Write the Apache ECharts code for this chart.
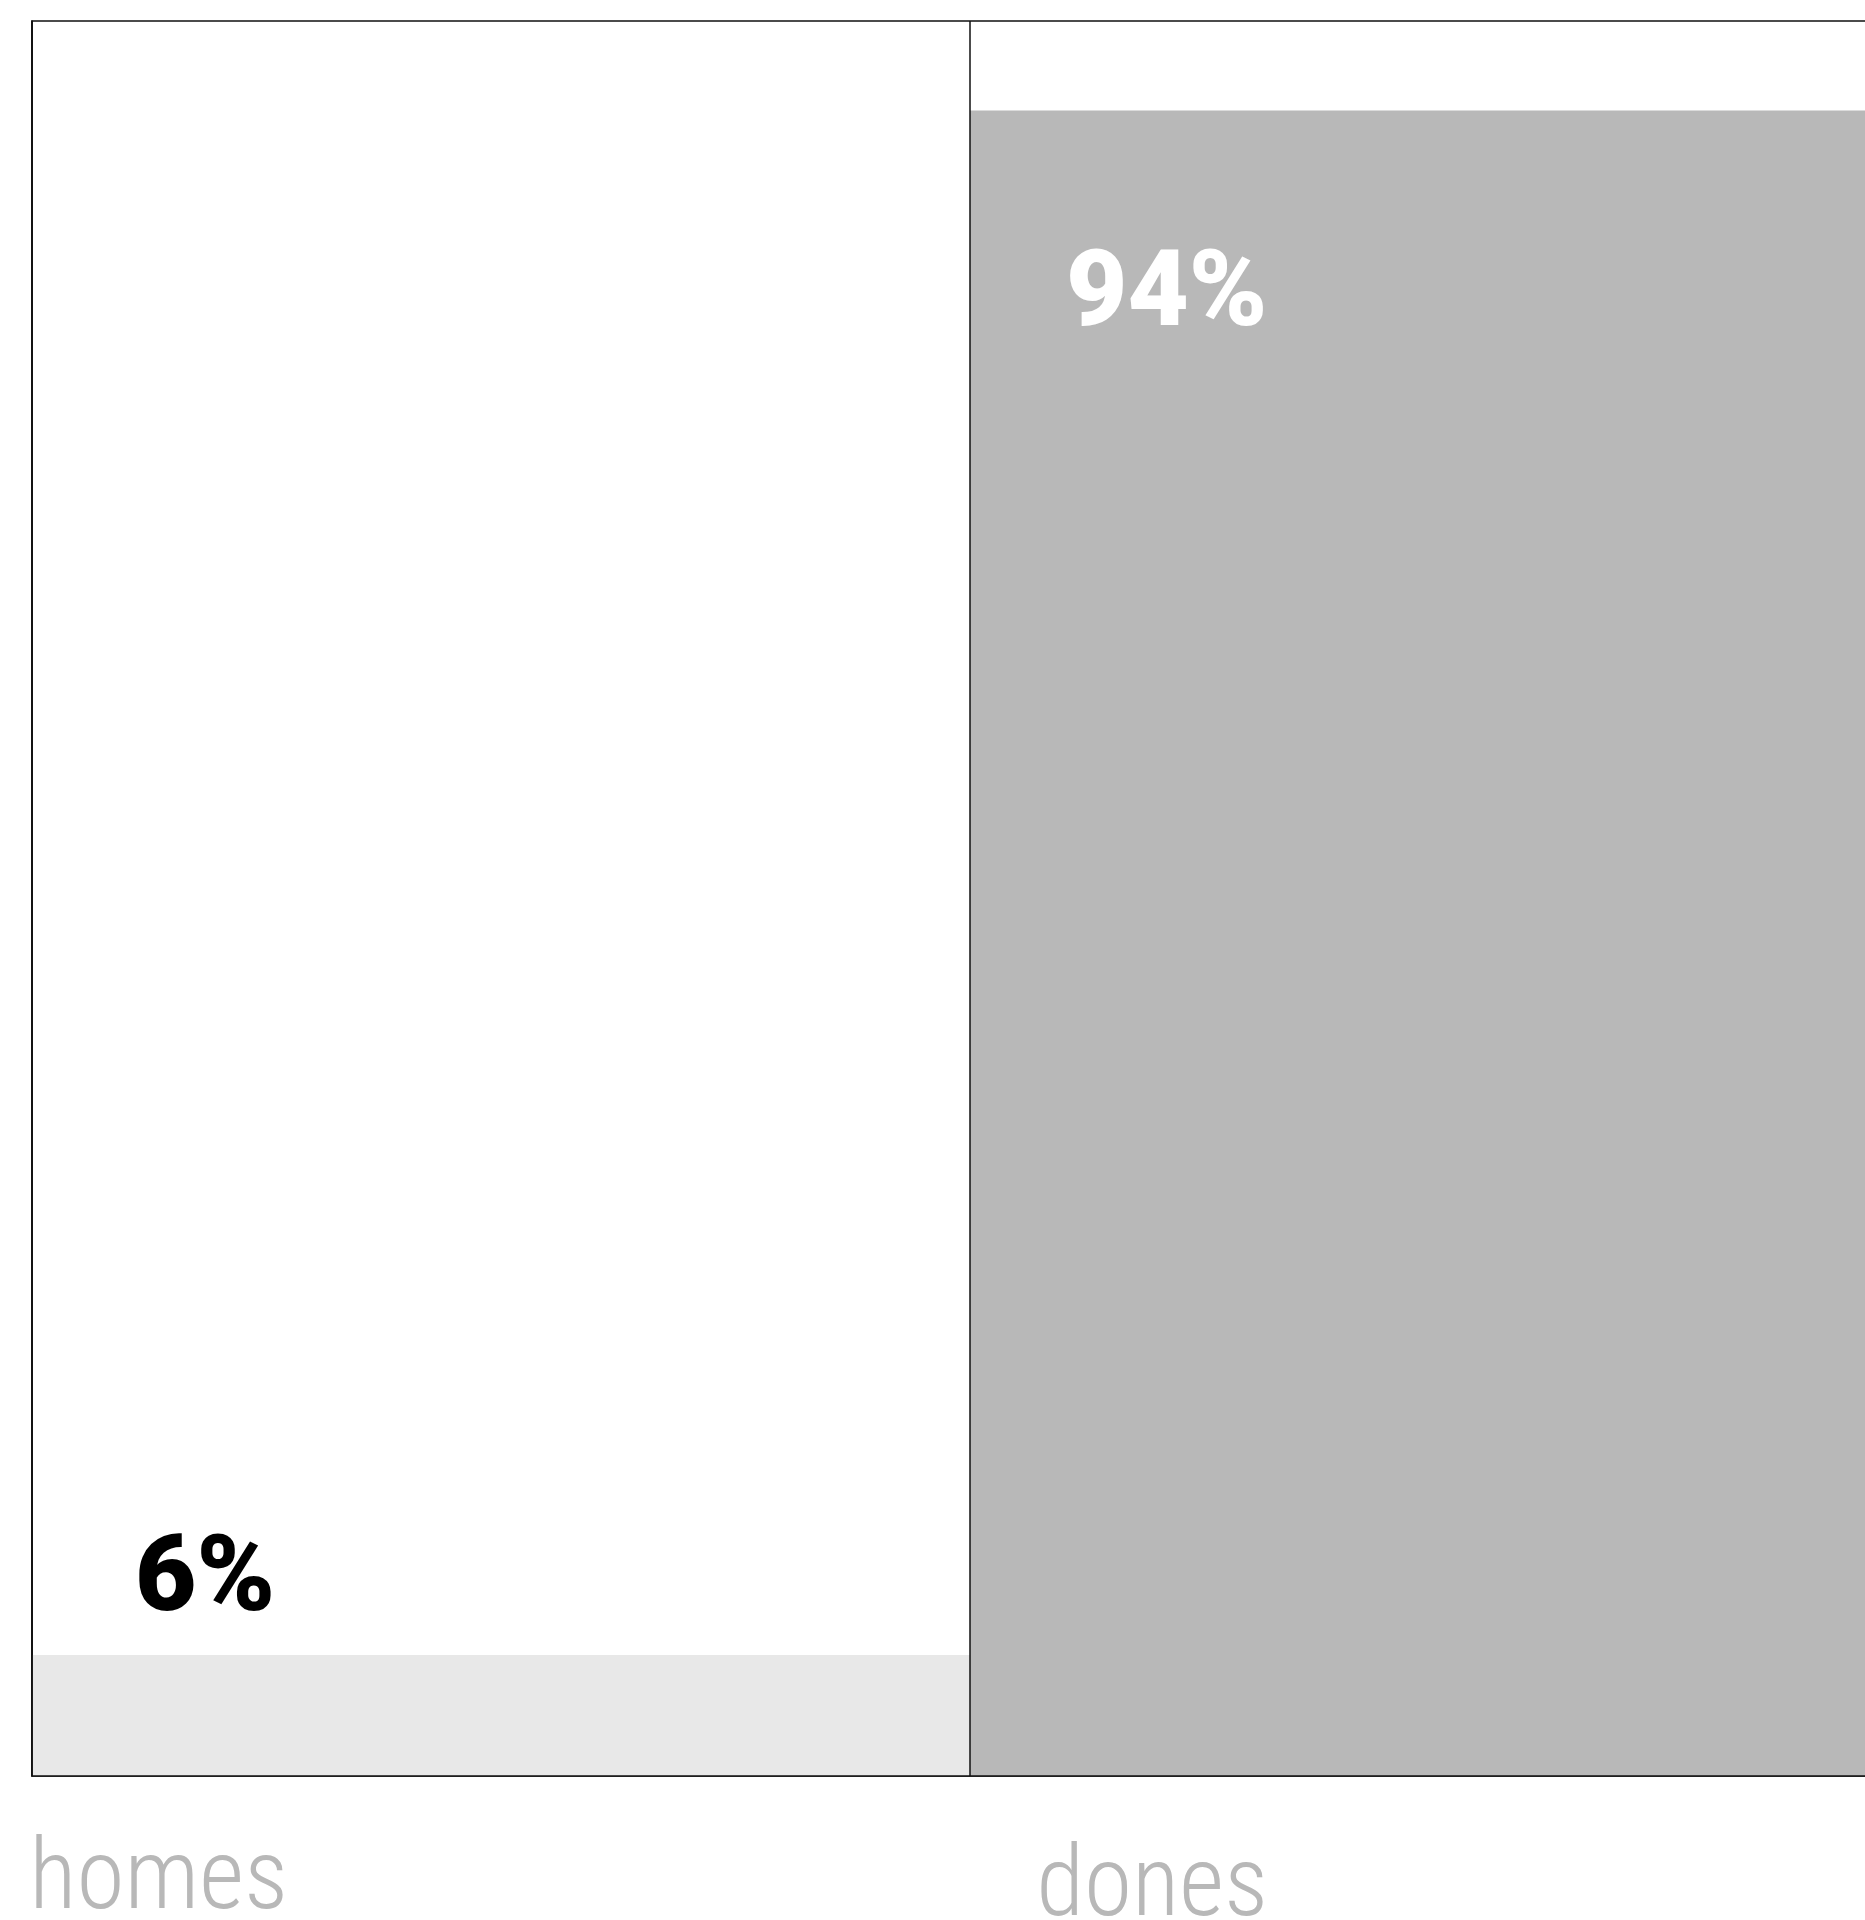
<!DOCTYPE html>
<html>
<head>
<meta charset="utf-8">
<script src="https://cdn.jsdelivr.net/npm/echarts@6/dist/echarts.min.js"></script>
<style>
html,body{margin:0;padding:0;background:#fff;}
#c{width:1865px;height:1920px;}
</style>
</head>
<body>
<div id="c"></div>
<script>
const categories = ['homes', 'dones'];
const values = [6.9, 94.9];
const valueLabels = ['6%', '94%'];
const barColors = ['#e8e8e8', '#b8b8b8'];
const labelColors = ['#000000', '#ffffff'];

const chart = echarts.init(document.getElementById('c'), null, {renderer: 'canvas'});
const lineColor = '#111111';
const condFont = 'Roboto, "Open Sans", sans-serif';

const option = {
  animation: false,
  backgroundColor: '#ffffff',
  grid: {
    left: 32, right: -43, top: 21, bottom: 144,
    containLabel: false,
    outerBoundsMode: 'none',
    show: true, borderColor: lineColor, borderWidth: 1.5, backgroundColor: 'transparent'
  },
  xAxis: {
    type: 'category',
    data: categories,
    boundaryGap: true,
    z: 10,
    axisLine: {show: true, onZero: false, lineStyle: {color: lineColor, width: 1.5}},
    axisTick: {show: false},
    splitLine: {show: true, lineStyle: {color: lineColor, width: 1.5}},
    axisLabel: {
      margin: 62,
      align: 'right',
      verticalAlign: 'top',
      hideOverlap: false,
      formatter: function (v, i) { return '{c' + i + '|' + v + '}'; },
      rich: {
        c0: {fontFamily: condFont, fontStyle: 'condensed', fontWeight: 300, fontSize: 98, lineHeight: 98, color: '#b8b8b8', padding: [0, 213, 7, 0]},
        c1: {fontFamily: condFont, fontStyle: 'condensed', fontWeight: 300, fontSize: 98, lineHeight: 98, color: '#b8b8b8', padding: [7, 171, 0, 0]}
      }
    }
  },
  yAxis: {
    type: 'value',
    min: 0,
    max: 100,
    z: 10,
    axisLine: {show: true, onZero: false, lineStyle: {color: lineColor, width: 1.5}},
    axisTick: {show: false},
    axisLabel: {show: false},
    splitLine: {show: false}
  },
  series: [{
    type: 'bar',
    barCategoryGap: '0%',
    barWidth: '100%',
    z: 2,
    data: values.map(function (v, i) {
      return {
        value: v,
        itemStyle: {color: barColors[i]},
        label: {
          show: true,
          formatter: valueLabels[i],
          color: labelColors[i],
          position: i === 0 ? [103, -124] : [96, 135],
          align: 'left',
          verticalAlign: 'top',
          fontFamily: condFont,
          fontWeight: 900,
          fontSize: 106,
          lineHeight: 106
        }
      };
    })
  }]
};
chart.setOption(option);
</script>
</body>
</html>
